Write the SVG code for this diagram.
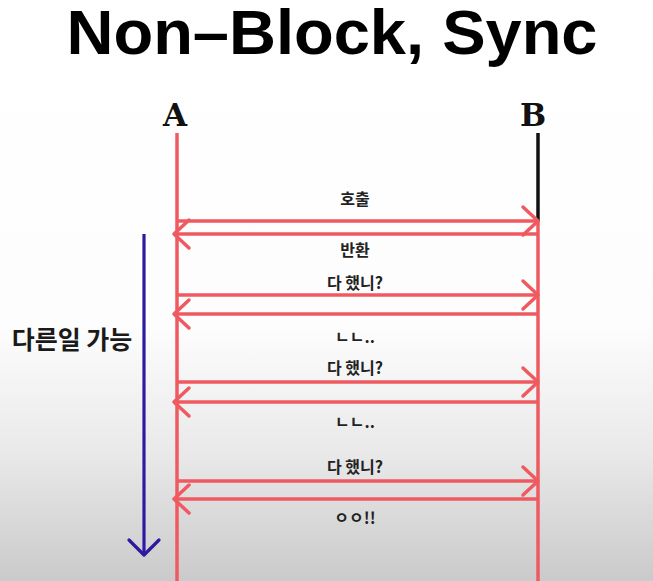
<svg xmlns="http://www.w3.org/2000/svg" width="653" height="581" viewBox="0 0 653 581">
  <style>
    .title { font-family: "Liberation Sans", Arial, sans-serif; font-weight: 700; font-size: 63px; fill: #000; }
    .actor { font-family: "DejaVu Serif", "Liberation Serif", serif; font-weight: 700; font-size: 31px; fill: #111; }
    .life { stroke: #ef5a60; stroke-width: 3.5; fill: none; }
    .msg { stroke: #ef5a60; stroke-width: 3.5; fill: none; marker-end: url(#head-red); }
    .lbl { font-family: "Noto Sans CJK KR", "Noto Sans", sans-serif; font-weight: 700; font-size: 16px; fill: #222; text-anchor: middle; }
    .side { font-family: "Noto Sans CJK KR", "Noto Sans", sans-serif; font-weight: 700; font-size: 25px; fill: #1a1a1a; text-anchor: middle; }
  </style>
  <defs>
    <linearGradient id="bg" x1="0" y1="0" x2="0" y2="1">
      <stop offset="0" stop-color="#ffffff"/>
      <stop offset="0.56" stop-color="#fdfdfd"/>
      <stop offset="0.78" stop-color="#e9e9e9"/>
      <stop offset="1" stop-color="#cacaca"/>
    </linearGradient>
    <marker id="head-red" markerUnits="userSpaceOnUse" markerWidth="22" markerHeight="34" viewBox="0 0 22 34" refX="18" refY="17" orient="auto">
      <path d="M 3 3 L 18 17 L 3 31" fill="none" stroke="#ef5a60" stroke-width="3.5" stroke-linecap="round" stroke-linejoin="round"/>
    </marker>
    <marker id="head-blue" markerUnits="userSpaceOnUse" markerWidth="22" markerHeight="36" viewBox="0 0 22 36" refX="18" refY="18" orient="auto">
      <path d="M 3 3 L 18 18 L 3 33" fill="none" stroke="#2e1aa0" stroke-width="3.2" stroke-linecap="round" stroke-linejoin="round"/>
    </marker>
  </defs>

  <rect x="0" y="0" width="653" height="581" fill="url(#bg)"/>

  <text class="title" x="332" y="54" text-anchor="middle" textLength="531" lengthAdjust="spacingAndGlyphs">Non–Block, Sync</text>

  <g id="node-A">
    <text class="actor" x="175" y="126" text-anchor="middle">A</text>
    <line class="life" x1="177" y1="133" x2="177" y2="581"/>
  </g>

  <g id="node-B">
    <text class="actor" x="533" y="126" text-anchor="middle">B</text>
    <line x1="538" y1="133" x2="538" y2="221" stroke="#111" stroke-width="3.5"/>
    <line class="life" x1="538" y1="221" x2="538" y2="581"/>
  </g>

  <g id="connectors">
    <line class="msg" x1="177" y1="221" x2="538" y2="221"/>
    <line class="msg" x1="538" y1="234" x2="174" y2="234"/>
    <line class="msg" x1="177" y1="295" x2="538" y2="295"/>
    <line class="msg" x1="538" y1="314" x2="174" y2="314"/>
    <line class="msg" x1="177" y1="382" x2="538" y2="382"/>
    <line class="msg" x1="538" y1="402" x2="174" y2="402"/>
    <line class="msg" x1="177" y1="481" x2="538" y2="481"/>
    <line class="msg" x1="538" y1="499" x2="174" y2="499"/>

    <text class="lbl" x="355" y="205">호출</text>
    <text class="lbl" x="355" y="256">반환</text>
    <text class="lbl" x="355" y="289">다 했니?</text>
    <text class="lbl" x="355" y="343">ㄴㄴ..</text>
    <text class="lbl" x="355" y="374">다 했니?</text>
    <text class="lbl" x="355" y="428">ㄴㄴ..</text>
    <text class="lbl" x="355" y="473">다 했니?</text>
    <text class="lbl" x="355" y="524">ㅇㅇ!!</text>
  </g>

  <g id="node-other-work">
    <line x1="144" y1="234" x2="144" y2="555" stroke="#2e1aa0" stroke-width="3.2" marker-end="url(#head-blue)"/>
    <text class="side" x="72" y="349">다른일 가능</text>
  </g>
</svg>
